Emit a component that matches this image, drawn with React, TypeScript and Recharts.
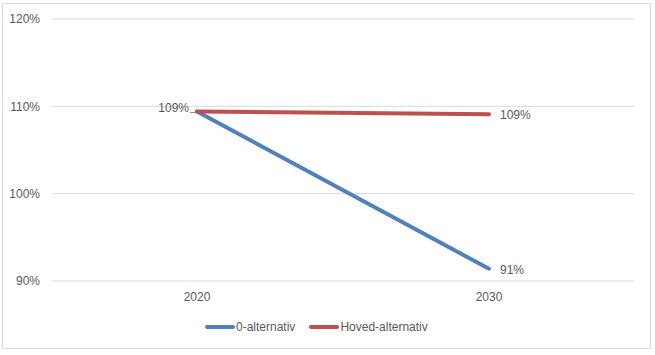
import React from "react";
import { LineChart, Line, XAxis, YAxis, CartesianGrid, LabelList } from "recharts";

const years = ["2020", "2030"];
const nullAlternativ = [109.4, 91.4];
const hovedAlternativ = [109.4, 109.1];
const yTicks = [90, 100, 110, 120];

const data = years.map((year, i) => ({
  year,
  zero: nullAlternativ[i],
  hoved: hovedAlternativ[i],
}));

const BLUE = "#4f81bd";
const RED = "#c0504d";
const TEXT = "#595959";
const FONT = "'Liberation Sans', Arial, sans-serif";

const pct = (v: number) => `${Math.round(v)}%`;

// right-side label, only on the last point
function EndLabel(props: any) {
  const { x, y, value, index } = props;
  if (index !== years.length - 1) return null;
  return (
    <text x={x + 11} y={y + 2} dominantBaseline="middle" fill={TEXT} fontSize={12} fontFamily={FONT}>
      {pct(value)}
    </text>
  );
}

// left label with a small leader line, first point only
function StartLabel(props: any) {
  const { x, y, value, index } = props;
  if (index !== 0) return null;
  return (
    <g>
      <text x={x - 8} y={y - 3} textAnchor="end" dominantBaseline="middle" fill={TEXT} fontSize={12} fontFamily={FONT}>
        {pct(value)}
      </text>
      <line x1={x - 7} x2={x - 1} y1={y + 1} y2={y + 1} stroke="#8c8c8c" strokeWidth={1} />
    </g>
  );
}

function LegendBox() {
  const items = [
    { name: "0-alternativ", color: BLUE },
    { name: "Hoved-alternativ", color: RED },
  ];
  return (
    <div
      style={{
        position: "absolute",
        left: 205,
        top: 320,
        display: "flex",
        gap: 14,
        fontFamily: FONT,
        fontSize: 12,
        color: TEXT,
      }}
    >
      {items.map((it) => (
        <div key={it.name} style={{ display: "flex", alignItems: "center" }}>
          <svg width={30} height={8}>
            <line x1={2} x2={28} y1={4} y2={4} stroke={it.color} strokeWidth={4} strokeLinecap="round" />
          </svg>
          <span style={{ marginLeft: 1 }}>{it.name}</span>
        </div>
      ))}
    </div>
  );
}

export default function App() {
  return (
    <div style={{ position: "absolute", left: 0, top: 0, width: 655, height: 355, background: "#fff" }}>
      <div
        style={{
          position: "absolute",
          left: 2,
          top: 3,
          width: 647,
          height: 344,
          border: "1px solid #d9d9d9",
        }}
      />
      <div style={{ position: "absolute", left: 0, top: 0 }}>
        <LineChart width={655} height={355} data={data} margin={{ top: 19, right: 21, bottom: 44, left: 0 }}>
          <CartesianGrid vertical={false} stroke="#d9d9d9" strokeWidth={1} />
          <XAxis
            dataKey="year"
            axisLine={false}
            tickLine={false}
            padding={{ left: 145, right: 145 }}
            tick={{ fill: TEXT, fontSize: 12, fontFamily: FONT }}
            tickMargin={5}
            height={30}
          />
          <YAxis
            domain={[90, 120]}
            ticks={yTicks}
            tickFormatter={(v) => `${v}%`}
            axisLine={false}
            tickLine={false}
            width={52}
            tickMargin={6}
            tick={{ fill: TEXT, fontSize: 12, fontFamily: FONT }}
          />
          <Line
            dataKey="zero"
            stroke={BLUE}
            strokeWidth={4}
            strokeLinecap="round"
            dot={false}
            isAnimationActive={false}
          >
            <LabelList dataKey="zero" content={<EndLabel />} />
          </Line>
          <Line
            dataKey="hoved"
            stroke={RED}
            strokeWidth={4}
            strokeLinecap="round"
            dot={false}
            isAnimationActive={false}
          >
            <LabelList dataKey="hoved" content={<EndLabel />} />
            <LabelList dataKey="hoved" content={<StartLabel />} />
          </Line>
        </LineChart>
      </div>
      <LegendBox />
    </div>
  );
}
